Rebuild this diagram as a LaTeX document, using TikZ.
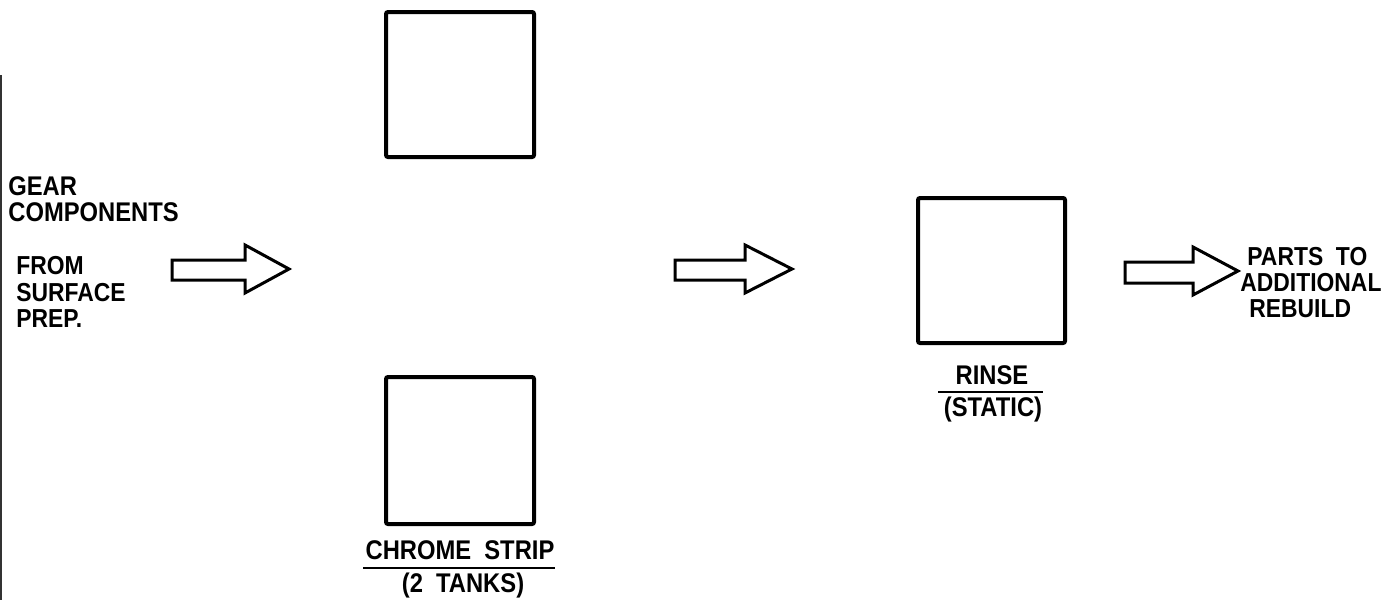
\documentclass[tikz,border=0pt]{standalone}
\usepackage{fontspec}
\setmainfont{Liberation Sans}[FakeStretch=0.88]
\begin{document}
\begin{tikzpicture}[x=0.5pt,y=-0.5pt,
  tank/.style={draw, line width=2pt, rounded corners=1pt, minimum width=74pt, minimum height=72.5pt, inner sep=0pt},
  lbl/.style={font=\fontsize{13.5}{13}\selectfont\bfseries, inner sep=0pt},
  rule/.style={line width=1pt},
  barrow/.style={draw, line width=1.5pt, line join=miter}]
\useasboundingbox (0,0) rectangle (1392,600);
% scan border
\draw[line width=1pt, black!80] (1,75) -- (1,600);
% tanks
\node[tank] (top) at (460,84.5) {};
\node[tank, minimum height=73.5pt] (bottom) at (460,450.5) {};
\node[tank, minimum width=73.5pt] (rinse) at (991.5,270.5) {};
% left texts
\node[lbl, anchor=north west, align=left] (gear) at (8,176) {GEAR\\COMPONENTS};
\node[lbl, anchor=north west, align=left, font=\fontsize{13}{13.3}\selectfont\bfseries] (from) at (16,256) {FROM\\SURFACE\\PREP.};
% right texts
\node[lbl, anchor=north west, align=left, font=\fontsize{13}{13}\selectfont\bfseries] (parts) at (1240,247) {\hspace*{3.5pt}PARTS\ \ TO\\ADDITIONAL\\\hspace*{4.5pt}REBUILD};
% tank labels
\node[lbl] (chrome) at (460,550) {CHROME\ \ STRIP};
\draw[rule] (363,568) -- (555,568);
\node[lbl] (tanks) at (463,586) {(2\ \ TANKS)};
\node[lbl] (rinsel) at (992,375) {RINSE};
\draw[rule] (938,392) -- (1043,392);
\node[lbl] (static) at (993,410) {(STATIC)};
% block arrows
\path[barrow] (172,260) -- (245,260) -- (245,245) -- (289,269) -- (245,293) -- (245,280) -- (172,280) -- cycle;
\path[barrow] (675,260) -- (745,260) -- (745,245) -- (792,269) -- (745,293) -- (745,280) -- (675,280) -- cycle;
\path[barrow] (1125,262) -- (1193,262) -- (1193,247) -- (1238,271) -- (1193,295) -- (1193,283) -- (1125,283) -- cycle;
\end{tikzpicture}
\end{document}
